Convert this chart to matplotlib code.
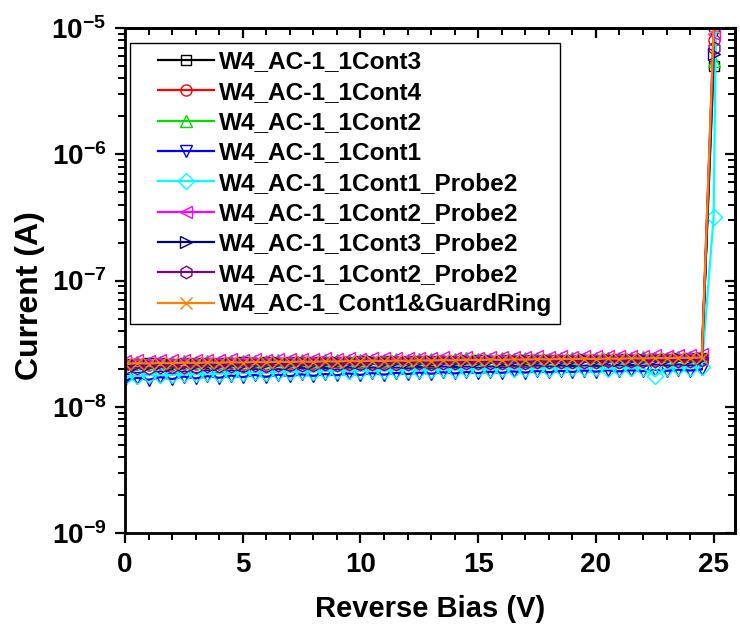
import numpy as np
import matplotlib
matplotlib.use("Agg")
import matplotlib.pyplot as plt
from matplotlib.ticker import FixedLocator, NullFormatter, FuncFormatter
from matplotlib.legend_handler import HandlerLine2D

plt.rcParams['font.family'] = ['Liberation Sans', 'DejaVu Sans']
plt.rcParams['font.weight'] = 'bold'
plt.rcParams['mathtext.fontset'] = 'custom'
plt.rcParams['mathtext.rm'] = 'Liberation Sans:bold'
plt.rcParams['mathtext.bf'] = 'Liberation Sans:bold'
plt.rcParams['mathtext.default'] = 'bf'

bias = [i * 0.5 for i in range(51)]
bias_cyan = bias + [25.1]

x_ticks = [0, 5, 10, 15, 20, 25]
y_ticks = [1e-9, 1e-8, 1e-7, 1e-6, 1e-5]

labels = ["W4_AC-1_1Cont3", "W4_AC-1_1Cont4", "W4_AC-1_1Cont2", "W4_AC-1_1Cont1",
          "W4_AC-1_1Cont1_Probe2", "W4_AC-1_1Cont2_Probe2", "W4_AC-1_1Cont3_Probe2",
          "W4_AC-1_1Cont2_Probe2", "W4_AC-1_Cont1&GuardRing"]

# currents in units of 1e-8 A
cont3 = [2.20,2.18,2.21,2.22,2.20,2.23,2.22,2.24,2.21,2.23,
         2.25,2.24,2.26,2.23,2.25,2.27,2.26,2.28,2.25,2.27,
         2.29,2.28,2.30,2.27,2.29,2.31,2.30,2.32,2.29,2.31,
         2.33,2.32,2.34,2.31,2.33,2.35,2.34,2.36,2.33,2.35,
         2.37,2.36,2.38,2.35,2.37,2.39,2.38,2.40,2.42,2.45, 500]
cont4 = [2.15,2.17,2.14,2.18,2.16,2.19,2.17,2.20,2.18,2.21,
         2.19,2.22,2.20,2.23,2.21,2.24,2.22,2.23,2.25,2.24,
         2.26,2.23,2.27,2.25,2.28,2.26,2.27,2.29,2.26,2.30,
         2.28,2.31,2.29,2.30,2.32,2.30,2.33,2.31,2.32,2.34,
         2.31,2.35,2.33,2.32,2.36,2.34,2.35,2.37,2.38,2.40, 800]
cont2 = [2.25,2.27,2.24,2.28,2.26,2.29,2.27,2.30,2.28,2.31,
         2.29,2.32,2.30,2.33,2.31,2.34,2.32,2.35,2.33,2.36,
         2.34,2.37,2.35,2.38,2.36,2.39,2.41,2.37,2.40,2.42,
         2.38,2.41,2.43,2.39,2.42,2.44,2.40,2.43,2.45,2.41,
         2.44,2.46,2.42,2.45,2.47,2.43,2.46,2.48,2.47,2.50, 550]
cont1 = [1.62,1.70,1.64,1.72,1.66,1.74,1.68,1.75,1.70,1.77,
         1.72,1.79,1.73,1.80,1.75,1.81,1.76,1.82,1.78,1.84,
         1.79,1.85,1.80,1.86,1.82,1.87,1.83,1.88,1.84,1.89,
         1.85,1.90,1.86,1.91,1.87,1.92,1.88,1.93,1.89,1.94,
         1.90,1.95,1.91,1.95,1.92,1.96,1.93,1.97,1.94,1.98, 900]
cont1_p2 = [1.72,1.76,1.78,1.80,1.79,1.82,1.81,1.84,1.83,1.86,
            1.85,1.88,1.87,1.90,1.89,1.91,1.90,1.93,1.92,1.94,
            1.93,1.95,1.94,1.96,1.95,1.97,1.96,1.98,1.97,1.99,
            1.98,2.00,1.99,2.01,2.00,2.02,2.01,2.03,2.02,2.04,
            2.03,2.00,2.05,2.02,2.04,1.75,2.03,2.06,2.05,2.07, 32, 1200]
cont2_p2 = [2.30,2.33,2.31,2.35,2.33,2.36,2.34,2.37,2.35,2.38,
            2.36,2.39,2.37,2.40,2.38,2.41,2.39,2.42,2.40,2.43,
            2.41,2.44,2.42,2.45,2.43,2.46,2.44,2.47,2.45,2.48,
            2.46,2.49,2.47,2.50,2.48,2.51,2.49,2.52,2.50,2.53,
            2.51,2.54,2.52,2.55,2.53,2.56,2.54,2.57,2.58,2.60, 900]
cont3_p2 = [2.12,2.16,2.14,2.18,2.16,2.20,2.17,2.21,2.19,2.22,
            2.20,2.24,2.21,2.25,2.23,2.26,2.24,2.27,2.25,2.28,
            2.26,2.29,2.27,2.30,2.28,2.31,2.29,2.32,2.30,2.33,
            2.31,2.34,2.32,2.35,2.33,2.36,2.34,2.37,2.35,2.38,
            2.36,2.39,2.37,2.40,2.38,2.41,2.39,2.42,2.40,2.43, 620]
cont2_p2b = [2.02,2.05,2.04,2.07,2.06,2.08,2.07,2.10,2.09,2.11,
             2.10,2.13,2.12,2.14,2.13,2.15,2.14,2.17,2.16,2.18,
             2.17,2.19,2.18,2.20,2.19,2.21,2.20,2.22,2.21,2.23,
             2.22,2.24,2.23,2.25,2.24,2.26,2.25,2.27,2.26,2.28,
             2.27,2.29,2.28,2.30,2.29,2.31,2.30,2.32,2.31,2.33, 700]
guard = [2.18,2.22,2.20,2.23,2.21,2.24,2.22,2.25,2.23,2.26,
         2.24,2.27,2.25,2.28,2.26,2.29,2.27,2.30,2.28,2.31,
         2.29,2.32,2.30,2.33,2.31,2.34,2.32,2.35,2.33,2.36,
         2.34,2.37,2.35,2.38,2.36,2.39,2.37,2.40,2.38,2.41,
         2.39,2.42,2.40,2.43,2.41,2.44,2.42,2.45,2.44,2.46, 1000]

series = [cont3, cont4, cont2, cont1, cont1_p2, cont2_p2, cont3_p2, cont2_p2b, guard]
xs = [bias, bias, bias, bias, bias_cyan, bias, bias, bias, bias]
colors = ['#000000', '#ff0000', '#00dd00', '#0000ff', '#00ffff', '#ff00ff',
          '#000080', '#800080', '#ff8000']
markers = ['s', 'o', '^', 'v', 'D', '<', '>', 'h', 'x']
msizes = [6.5, 8, 9, 9, 8, 9, 9, 9, 9]

fig = plt.figure(figsize=(7.40, 6.37), dpi=100)
ax = fig.add_axes([0.169, 0.163, 0.824, 0.793])

for x, y, c, m, ms, lab in zip(xs, series, colors, markers, msizes, labels):
    ax.plot(x, np.array(y) * 1e-8, color=c, marker=m, markersize=ms,
            markerfacecolor='none', markeredgecolor=c, markeredgewidth=1.0,
            linewidth=1.6, label=lab, clip_on=True)

ax.set_yscale('log')
ax.set_ylim(1e-9, 1e-5)
ax.set_xlim(0, 25.9)

y_minor = [m * d for d in [1e-9, 1e-8, 1e-7, 1e-6] for m in range(2, 10)]
x_minor = list(range(0, 26))

ax.xaxis.set_major_locator(FixedLocator(x_ticks))
ax.xaxis.set_minor_locator(FixedLocator(x_minor))
ax.yaxis.set_major_locator(FixedLocator(y_ticks))
ax.yaxis.set_minor_locator(FixedLocator(y_minor))
ax.yaxis.set_minor_formatter(NullFormatter())
ax.yaxis.set_major_formatter(FuncFormatter(lambda v, p: r'$\mathbf{10^{%d}}$' % int(round(np.log10(v)))))

ax.tick_params(axis='both', which='major', direction='out', length=7.5, width=1.6,
               labelsize=20, pad=6)
ax.tick_params(axis='both', which='minor', direction='out', length=5, width=1.4)
for lab in ax.get_xticklabels() + ax.get_yticklabels():
    lab.set_fontweight('bold')

for s in ax.spines.values():
    s.set_linewidth(2)

# mirrored ticks on top and right pointing inward
secx = ax.secondary_xaxis('top')
secx.xaxis.set_major_locator(FixedLocator(x_ticks))
secx.xaxis.set_minor_locator(FixedLocator(x_minor))
secx.tick_params(which='major', direction='in', length=7.5, width=1.6, labeltop=False)
secx.tick_params(which='minor', direction='in', length=5, width=1.4)
secx.spines['top'].set_linewidth(2)

secy = ax.secondary_yaxis('right')
secy.yaxis.set_major_locator(FixedLocator(y_ticks))
secy.yaxis.set_minor_locator(FixedLocator(y_minor))
secy.yaxis.set_minor_formatter(NullFormatter())
secy.tick_params(which='major', direction='in', length=7.5, width=1.6, labelright=False)
secy.tick_params(which='minor', direction='in', length=5, width=1.4)
secy.spines['right'].set_linewidth(2)

ax.set_xlabel('Reverse Bias (V)', fontsize=21, fontweight='bold')
ax.xaxis.set_label_coords(0.5, -0.122)
ax.set_ylabel('Current (A)', fontsize=23, fontweight='bold')
ax.yaxis.set_label_coords(-0.132, 0.47)


class OffsetLineHandler(HandlerLine2D):
    def create_artists(self, legend, orig_handle, xdescent, ydescent, width,
                       height, fontsize, trans):
        off = 0.85 * fontsize
        return super().create_artists(legend, orig_handle, xdescent - off, ydescent,
                                      width - off, height, fontsize, trans)


leg = ax.legend(loc='upper left', bbox_to_anchor=(0.008, 0.970), fontsize=17.6,
                frameon=True, fancybox=False, edgecolor='black', framealpha=1,
                handlelength=3.15, handletextpad=0.2, borderpad=0.3,
                labelspacing=0.3, borderaxespad=0,
                handler_map={plt.Line2D: OffsetLineHandler()})
leg.get_frame().set_linewidth(1.0)
for t in leg.get_texts():
    t.set_fontweight('bold')

fig.savefig('out.png', dpi=100)
